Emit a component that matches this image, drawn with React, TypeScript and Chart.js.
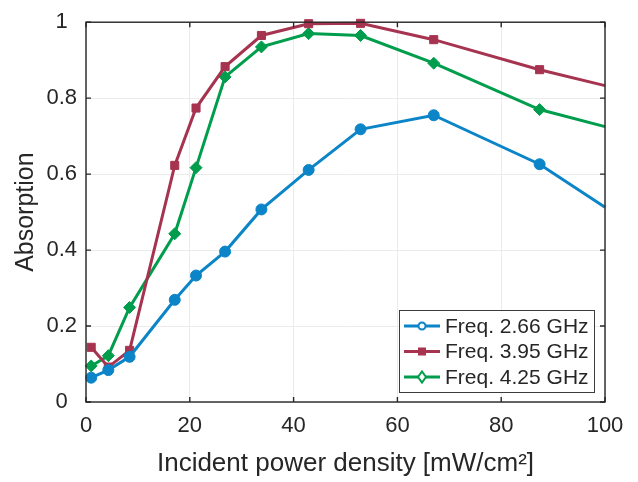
import { useEffect, useRef } from 'react';
import { Chart, registerables } from 'chart.js';

Chart.register(...registerables);

const xValues = [1, 4.3, 8.4, 17.1, 21.2, 26.8, 33.8, 42.9, 52.9, 67.0, 87.4, 100];
const freq266 = [0.064, 0.084, 0.119, 0.269, 0.333, 0.396, 0.507, 0.611, 0.718, 0.755, 0.626, 0.513];
const freq395 = [0.144, 0.092, 0.136, 0.623, 0.774, 0.883, 0.965, 0.996, 0.997, 0.954, 0.875, 0.833];
const freq425 = [0.095, 0.122, 0.249, 0.443, 0.617, 0.856, 0.935, 0.970, 0.965, 0.892, 0.770, 0.725];
const seriesLabels = ['Freq. 2.66 GHz', 'Freq. 3.95 GHz', 'Freq. 4.25 GHz'];
const seriesColors = ['#0c84c8', '#a6334f', '#009d4c'];
const xTitle = 'Incident power density [mW/cm²]';
const yTitle = 'Absorption';

const FONT = "'Liberation Sans', Arial, Helvetica, sans-serif";
const AXIS = '#262626';

const framePlugin = {
  id: 'matlabFrame',
  afterDraw(chart: any) {
    const ctx = chart.ctx;
    const { left, right, top, bottom } = chart.chartArea;
    const xs = chart.scales.x;
    const ys = chart.scales.y;
    ctx.save();
    ctx.strokeStyle = AXIS;
    ctx.lineWidth = 1.4;
    ctx.strokeRect(left, top, right - left, bottom - top);
    const tl = 5;
    ctx.beginPath();
    xs.ticks.forEach((t: any) => {
      const px = xs.getPixelForValue(t.value);
      ctx.moveTo(px, bottom);
      ctx.lineTo(px, bottom - tl);
      ctx.moveTo(px, top);
      ctx.lineTo(px, top + tl);
    });
    ys.ticks.forEach((t: any) => {
      const py = ys.getPixelForValue(t.value);
      ctx.moveTo(left, py);
      ctx.lineTo(left + tl, py);
      ctx.moveTo(right, py);
      ctx.lineTo(right - tl, py);
    });
    ctx.stroke();

    // legend
    const w = 195;
    const h = 82;
    const x0 = right - 206;
    const y0 = bottom - 92;
    ctx.fillStyle = '#ffffff';
    ctx.fillRect(x0, y0, w, h);
    ctx.strokeStyle = '#3c3c3c';
    ctx.lineWidth = 1;
    ctx.strokeRect(x0 + 0.5, y0 + 0.5, w, h);
    const styles = ['circle', 'rect', 'diamond'];
    chart.data.datasets.forEach((ds: any, i: number) => {
      const cy = y0 + 16 + i * 25.5;
      ctx.strokeStyle = ds.borderColor;
      ctx.lineWidth = 3;
      ctx.beginPath();
      ctx.moveTo(x0 + 5, cy);
      ctx.lineTo(x0 + 41, cy);
      ctx.stroke();
      const mx = x0 + 23;
      ctx.lineWidth = 2;
      ctx.fillStyle = ds.borderColor;
      if (styles[i] === 'circle') {
        ctx.beginPath();
        ctx.arc(mx, cy, 3.5, 0, Math.PI * 2);
        ctx.fillStyle = '#ffffff';
        ctx.fill();
        ctx.stroke();
      } else if (styles[i] === 'rect') {
        ctx.fillRect(mx - 4, cy - 4, 8, 8);
      } else {
        ctx.beginPath();
        ctx.moveTo(mx, cy - 5.5);
        ctx.lineTo(mx + 4, cy);
        ctx.lineTo(mx, cy + 5.5);
        ctx.lineTo(mx - 4, cy);
        ctx.closePath();
        ctx.fillStyle = '#ffffff';
        ctx.fill();
        ctx.stroke();
      }
      ctx.fillStyle = AXIS;
      ctx.font = `21px ${FONT}`;
      ctx.textAlign = 'left';
      ctx.textBaseline = 'middle';
      ctx.fillText(ds.label, x0 + 46, cy + 1);
    });
    ctx.restore();
  },
};

export default function App() {
  const ref = useRef<HTMLCanvasElement | null>(null);

  useEffect(() => {
    if (!ref.current) return;
    const radii = xValues.map((_, i) => (i === xValues.length - 1 ? 0 : 5.5));
    const mk = (vals: number[], i: number, style: string, r: number[]) => ({
      label: seriesLabels[i],
      data: xValues.map((x, j) => ({ x, y: vals[j] })),
      borderColor: seriesColors[i],
      backgroundColor: seriesColors[i],
      pointBackgroundColor: seriesColors[i],
      pointBorderColor: seriesColors[i],
      borderWidth: 3,
      pointStyle: style,
      pointRadius: r,
      pointBorderWidth: 1,
      tension: 0,
      clip: false as any,
    });
    const chart = new Chart(ref.current, {
      type: 'line',
      data: {
        datasets: [
          mk(freq425, 2, 'rectRot', radii.map((v) => (v ? 6 : 0))),
          mk(freq395, 1, 'rect', radii.map((v) => (v ? 5.7 : 0))),
          mk(freq266, 0, 'circle', radii),
        ].reverse() as any,
      },
      options: {
        responsive: false,
        animation: false,
        layout: { padding: { top: 14, right: 33, left: 0, bottom: 0 } },
        plugins: { legend: { display: false }, tooltip: { enabled: false } },
        scales: {
          x: {
            type: 'linear',
            min: 0,
            max: 100,
            afterFit: (s: any) => {
              s.height = 80;
            },
            ticks: {
              stepSize: 20,
              padding: 11,
              color: AXIS,
              font: { family: FONT, size: 22 },
              maxRotation: 0,
            },
            grid: { color: '#ebebeb', lineWidth: 1, drawTicks: false },
            border: { display: false },
            title: {
              display: true,
              text: xTitle,
              color: AXIS,
              font: { family: FONT, size: 26 },
              padding: { top: 0, bottom: 3 },
            },
          },
          y: {
            min: 0,
            max: 1,
            afterFit: (s: any) => {
              s.width = 86;
            },
            ticks: {
              stepSize: 0.2,
              padding: 9,
              crossAlign: 'center',
              color: AXIS,
              font: { family: FONT, size: 22 },
              callback: (v: any) => String(Number(Number(v).toFixed(1))),
            },
            grid: { color: '#ebebeb', lineWidth: 1, drawTicks: false },
            border: { display: false },
            title: {
              display: true,
              text: yTitle,
              color: AXIS,
              font: { family: FONT, size: 25 },
              padding: { top: 11, bottom: 0 },
            },
          },
        },
      },
      plugins: [framePlugin],
    });
    return () => chart.destroy();
  }, []);

  return (
    <div style={{ position: 'absolute', left: 0, top: 0, width: 638, height: 482, background: '#fff' }}>
      <canvas ref={ref} width={638} height={482} style={{ display: 'block' }} />
    </div>
  );
}
